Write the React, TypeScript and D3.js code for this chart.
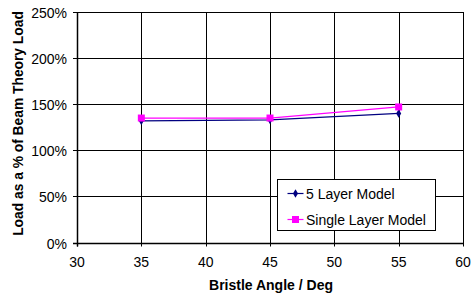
import { useRef, useEffect } from "react"
import * as d3 from "d3"

const angles = [35, 45, 55]
const fiveLayer = [132, 133, 140]
const singleLayer = [135, 135, 147]
const xTicks = [30, 35, 40, 45, 50, 55, 60]
const yTicks = [0, 50, 100, 150, 200, 250]
const seriesNames = ["5 Layer Model", "Single Layer Model"]

export default function App() {
  const svgRef = useRef<SVGSVGElement>(null)

  function drawChart() {
    const width = 472
    const height = 296
    const left = 77
    const right = 463
    const top = 12
    const bottom = 242.5
    const font = "Arial, 'Liberation Sans', sans-serif"

    const svg = d3.select(svgRef.current).attr("width", width).attr("height", height)
    svg.selectAll("*").remove()
    svg.append("rect").attr("width", width).attr("height", height).attr("fill", "#fff")

    const x = d3.scaleLinear().domain([30, 60]).range([left, right])
    const y = d3.scaleLinear().domain([0, 250]).range([bottom, top])

    // Grid
    const grid = svg.append("g").attr("stroke", "#000").attr("stroke-width", 1)
    grid
      .selectAll("line.v")
      .data(xTicks)
      .enter()
      .append("line")
      .attr("x1", (d) => Math.round(x(d)) + 0.5)
      .attr("x2", (d) => Math.round(x(d)) + 0.5)
      .attr("y1", top)
      .attr("y2", bottom + 4)
    grid
      .selectAll("line.h")
      .data(yTicks)
      .enter()
      .append("line")
      .attr("x1", left - 4)
      .attr("x2", right)
      .attr("y1", (d) => Math.round(y(d)) + 0.5)
      .attr("y2", (d) => Math.round(y(d)) + 0.5)

    // Axis lines (thicker)
    svg
      .append("line")
      .attr("x1", Math.round(left) + 0.5)
      .attr("x2", Math.round(left) + 0.5)
      .attr("y1", top)
      .attr("y2", bottom + 4)
      .attr("stroke", "#000")
      .attr("stroke-width", 1.5)
    svg
      .append("line")
      .attr("x1", left - 4)
      .attr("x2", right)
      .attr("y1", Math.round(bottom) + 0.5)
      .attr("y2", Math.round(bottom) + 0.5)
      .attr("stroke", "#000")
      .attr("stroke-width", 1.5)

    // Tick labels
    svg
      .append("g")
      .selectAll("text")
      .data(xTicks)
      .enter()
      .append("text")
      .text((d) => d)
      .attr("x", (d) => x(d))
      .attr("y", 266.5)
      .attr("text-anchor", "middle")
      .style("font-size", "14px")
      .style("font-family", font)
    svg
      .append("g")
      .selectAll("text")
      .data(yTicks)
      .enter()
      .append("text")
      .text((d) => d + "%")
      .attr("x", 67)
      .attr("y", (d) => y(d) + 6)
      .attr("text-anchor", "end")
      .style("font-size", "14px")
      .style("font-family", font)

    // Axis titles
    svg
      .append("text")
      .text("Bristle Angle / Deg")
      .attr("x", 271)
      .attr("y", 290)
      .attr("text-anchor", "middle")
      .style("font-size", "14px")
      .style("font-weight", "bold")
      .style("font-family", font)
    svg
      .append("text")
      .text("Load as a % of Beam Theory Load")
      .attr("transform", `translate(23, 123.5) rotate(-90)`)
      .attr("text-anchor", "middle")
      .style("font-size", "13.8px")
      .style("font-weight", "bold")
      .style("font-family", font)

    // Series
    const line = d3
      .line<number>()
      .x((d, i) => x(angles[i]))
      .y((d) => y(d))
    svg
      .append("path")
      .datum(fiveLayer)
      .attr("d", line)
      .attr("fill", "none")
      .attr("stroke", "#000080")
      .attr("stroke-width", 1.2)
    svg
      .append("path")
      .datum(singleLayer)
      .attr("d", line)
      .attr("fill", "none")
      .attr("stroke", "#ff00ff")
      .attr("stroke-width", 1.2)

    const diamond = d3.symbol().type(d3.symbolDiamond).size(22)
    svg
      .append("g")
      .selectAll("path")
      .data(fiveLayer)
      .enter()
      .append("path")
      .attr("d", diamond)
      .attr("transform", (d, i) => `translate(${x(angles[i])}, ${y(d)})`)
      .attr("fill", "#000080")
    svg
      .append("g")
      .selectAll("rect")
      .data(singleLayer)
      .enter()
      .append("rect")
      .attr("x", (d, i) => x(angles[i]) - 3.5)
      .attr("y", (d) => y(d) - 3.5)
      .attr("width", 7)
      .attr("height", 7)
      .attr("fill", "#ff00ff")

    // Legend
    const legend = svg.append("g").attr("transform", "translate(277.5, 179.5)")
    legend
      .append("rect")
      .attr("width", 158)
      .attr("height", 51)
      .attr("fill", "#fff")
      .attr("stroke", "#000")
      .attr("stroke-width", 1)
    const colors = ["#000080", "#ff00ff"]
    const items = legend
      .selectAll("g")
      .data(seriesNames)
      .enter()
      .append("g")
      .attr("transform", (d, i) => `translate(0, ${14 + i * 26})`)
    items
      .append("line")
      .attr("x1", 10)
      .attr("x2", 26)
      .attr("stroke", (d, i) => colors[i])
      .attr("stroke-width", 1.2)
    items.each(function (d, i) {
      const g = d3.select(this)
      if (i === 0) {
        g.append("path").attr("d", diamond).attr("transform", "translate(18, 0)").attr("fill", colors[i])
      } else {
        g.append("rect").attr("x", 14.5).attr("y", -3.5).attr("width", 7).attr("height", 7).attr("fill", colors[i])
      }
    })
    items
      .append("text")
      .text((d) => d)
      .attr("x", 28.5)
      .attr("y", 5)
      .style("font-size", "14px")
      .style("font-family", font)
  }

  useEffect(() => {
    drawChart()
  }, [svgRef])

  return (
    <div>
      <svg ref={svgRef} style={{ position: "absolute", left: 0, top: 0 }}></svg>
    </div>
  )
}
